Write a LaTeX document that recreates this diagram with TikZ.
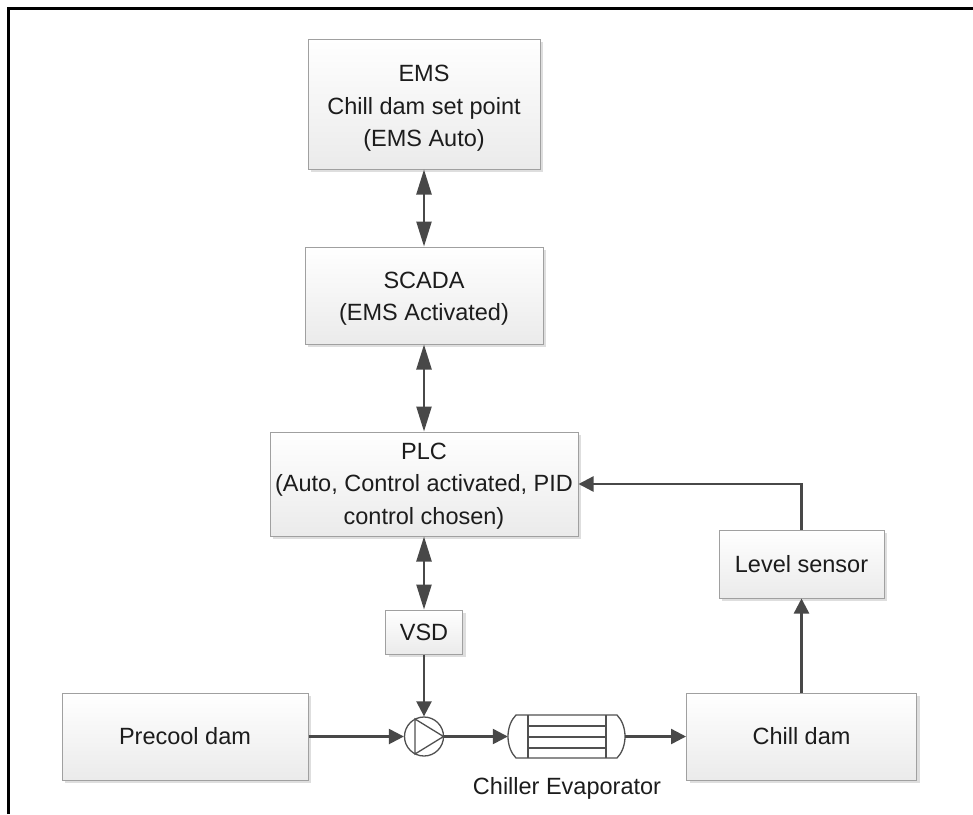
\documentclass[tikz,border=0pt]{standalone}
\usepackage{fontspec}
\setmainfont{Liberation Sans}
\usetikzlibrary{arrows.meta,shadows}
\definecolor{ink}{HTML}{1C1C1C}
\definecolor{wire}{HTML}{484848}
\definecolor{edge}{HTML}{A0A0A0}
\definecolor{sym}{HTML}{505050}
\tikzset{
  blockbox/.style={draw=edge,line width=1pt,top color=white,bottom color=black!8,
    general shadow={shadow xshift=3pt,shadow yshift=-3pt,fill=black!13},
    inner sep=0pt,align=center,text=ink,font=\fontsize{23.5}{32.5}\selectfont},
  link/.style={draw=wire,line width=2.4pt,-{Triangle[width=15pt,length=15pt]}},
  dlink/.style={draw=wire,line width=2.4pt,{Triangle[width=15pt,length=25pt]}-{Triangle[width=15pt,length=25pt]}},
  symline/.style={draw=sym,line width=1.3pt},
  frameline/.style={draw=black,line width=3pt},
}
\begin{document}
\begin{tikzpicture}[x=1pt,y=-1pt]
\useasboundingbox (0,0) rectangle (973,814);
\coordinate (fbl) at (8.5,814);
\coordinate (ftl) at (8.5,8);
\coordinate (ftr) at (973,8);
\draw[frameline] (fbl) -- (ftl) -- (ftr);

\node[blockbox,minimum width=232pt,minimum height=130pt] (ems) at (424,104) {\rule{0pt}{25pt}EMS\\Chill dam set point\\(EMS Auto)};
\node[blockbox,minimum width=238pt,minimum height=97pt] (scada) at (424,295.5) {\rule{0pt}{23pt}SCADA\\(EMS Activated)};
\node[blockbox,minimum width=308pt,minimum height=104pt] (plc) at (424,484) {\rule{0pt}{20pt}PLC\\(Auto, Control activated, PID\\control chosen)};
\node[blockbox,minimum width=77pt,minimum height=44pt] (vsd) at (424,632) {VSD};
\node[blockbox,minimum width=246pt,minimum height=87pt] (precool) at (185,736.5) {Precool dam};
\node[blockbox,minimum width=230pt,minimum height=87pt] (chill) at (801.5,736.5) {Chill dam};
\node[blockbox,minimum width=165pt,minimum height=68pt] (level) at (801.5,564) {Level sensor};

% pump
\node[circle,symline,minimum size=39pt,inner sep=0pt] (pump) at (424,736.5) {};
\draw[symline] (415,719) -- (415,754) -- (443.5,736.5) -- cycle;

% evaporator
\node[minimum width=117pt,minimum height=43pt,inner sep=0pt] (evap) at (566.5,736.5) {};
\draw[symline] (516,715) -- (617,715)
  .. controls (622,720) and (625,728) .. (625,736.5)
  .. controls (625,745) and (622,753) .. (617,758)
  -- (516,758)
  .. controls (511,753) and (508,745) .. (508,736.5)
  .. controls (508,728) and (511,720) .. (516,715) -- cycle;
\draw[symline] (528,715) -- (528,758) (606,715) -- (606,758)
  (528,726) -- (606,726) (528,737) -- (606,737) (528,748) -- (606,748);
\node[text=ink,font=\fontsize{23.5}{28}\selectfont,inner sep=0pt] (evaplabel) at (567,788) {Chiller Evaporator};

% connectors
\draw[dlink] (ems.south) -- (scada.north);
\draw[dlink] (scada.south) -- (plc.north);
\draw[dlink] (plc.south) -- (vsd.north);
\draw[link] (vsd.south) -- (pump.north);
\draw[link] (precool.east) -- (pump.west);
\draw[link] (pump.east) -- (evap.west);
\draw[link] (evap.east) -- (chill.west);
\draw[link] (chill.north) -- (level.south);
\draw[link] (level.north) |- (plc.east);
\end{tikzpicture}
\end{document}
